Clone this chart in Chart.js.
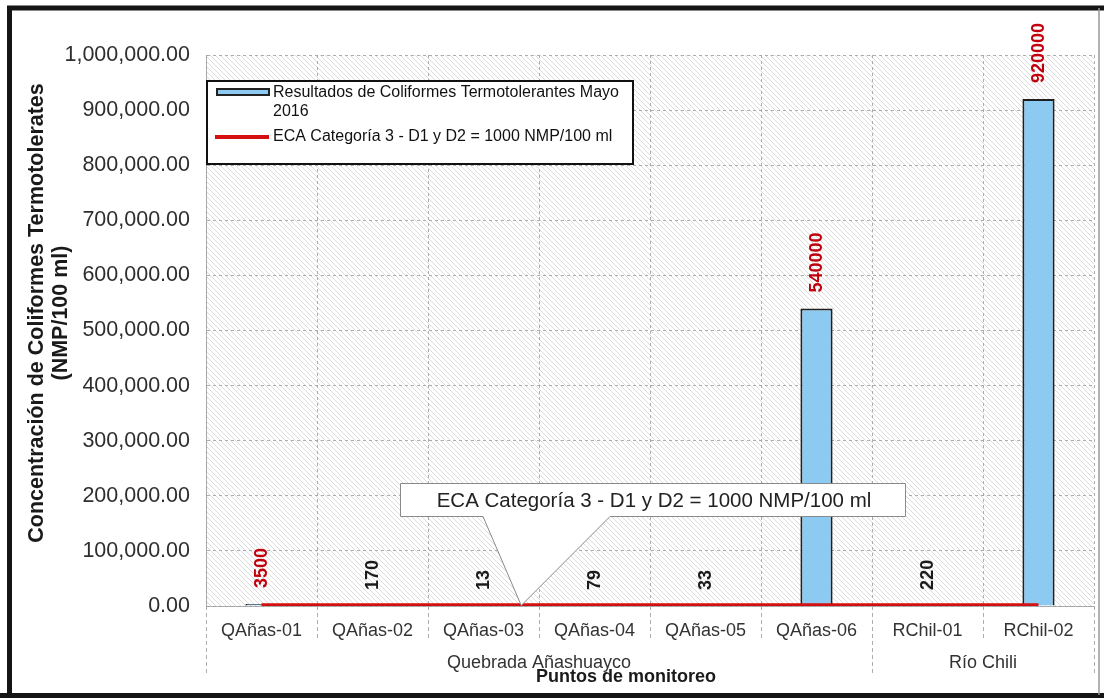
<!DOCTYPE html>
<html>
<head>
<meta charset="utf-8">
<script src="https://cdn.jsdelivr.net/npm/chart.js@4.4.1/dist/chart.umd.min.js"></script>
<style>
  html, body { margin: 0; padding: 0; background: #fff; }
  canvas { display: block; }
</style>
</head>
<body>
<canvas id="chart" width="1104" height="698"></canvas>
<script>
// Monitoring stations and thermotolerant coliform results (NMP/100 ml)
const stations = ['QAñas-01', 'QAñas-02', 'QAñas-03', 'QAñas-04', 'QAñas-05', 'QAñas-06', 'RChil-01', 'RChil-02'];
const coliformes = [3500, 170, 13, 79, 33, 540000, 220, 920000];
// Environmental quality standard (ECA) for every station
const ecaLimit = [1000, 1000, 1000, 1000, 1000, 1000, 1000, 1000];
// Station groups shown below the category labels
const groupNames = ['Quebrada Añashuayco', 'Río Chili'];
const groupSizes = [6, 2];
// Value axis
const yTickValues = [0, 100000, 200000, 300000, 400000, 500000, 600000, 700000, 800000, 900000, 1000000];
const yTickLabels = ['0.00', '100,000.00', '200,000.00', '300,000.00', '400,000.00', '500,000.00',
  '600,000.00', '700,000.00', '800,000.00', '900,000.00', '1,000,000.00'];
// Texts
const seriesLabel = ['Resultados de Coliformes Termotolerantes Mayo', '2016'];
const ecaLabel = 'ECA Categoría 3 - D1 y D2 = 1000 NMP/100 ml';
const yTitle = ['Concentración de Coliformes Termotolerates', '(NMP/100 ml)'];
const xTitle = 'Puntos de monitoreo';

const FONT = '"Liberation Sans", Arial, Helvetica, sans-serif';
const BAR_FILL = '#8CCAF2';
const RED = '#D50F0F';
const LABEL_RED = '#C0000C';
const GRID = 'rgba(160,160,160,0.85)';

function hatchPattern(ctx) {
  const tile = document.createElement('canvas');
  tile.width = 5; tile.height = 5;
  const t = tile.getContext('2d');
  t.strokeStyle = 'rgba(140,140,140,0.38)';
  t.lineWidth = 0.8;
  t.beginPath();
  t.moveTo(-1, -1); t.lineTo(6, 6);
  t.moveTo(-1, 4); t.lineTo(1, 6);
  t.moveTo(4, -1); t.lineTo(6, 1);
  t.stroke();
  return ctx.createPattern(tile, 'repeat');
}

const decor = {
  id: 'decor',
  beforeDraw(chart) {
    const { ctx, chartArea: a } = chart;
    ctx.save();
    ctx.fillStyle = '#fff';
    ctx.fillRect(0, 0, chart.width, chart.height);
    ctx.fillStyle = hatchPattern(ctx);
    ctx.fillRect(a.left, a.top, a.width, a.height);
    ctx.restore();
  },
  afterDatasetsDraw(chart) {
    // rotated value labels above each bar
    const { ctx } = chart;
    const meta = chart.getDatasetMeta(0);
    ctx.save();
    ctx.font = 'bold 18px ' + FONT;
    ctx.textAlign = 'left';
    ctx.textBaseline = 'middle';
    meta.data.forEach((bar, i) => {
      const v = coliformes[i];
      ctx.fillStyle = v > ecaLimit[i] ? LABEL_RED : '#1a1a1a';
      ctx.save();
      ctx.translate(bar.x + 1, bar.y - 16);
      ctx.rotate(-Math.PI / 2);
      ctx.fillText(String(v), 0, 0);
      ctx.restore();
    });
    ctx.restore();
  },
  afterDraw(chart) {
    const { ctx, chartArea: a } = chart;
    const xs = chart.scales.x, ys = chart.scales.y;
    const cw = xs.getPixelForValue(1) - xs.getPixelForValue(0);
    const edge = i => xs.getPixelForValue(0) - cw / 2 + i * cw;

    ctx.save();
    // category separators below the axis
    ctx.strokeStyle = GRID;
    ctx.lineWidth = 1;
    ctx.setLineDash([4, 3]);
    const groupEdges = [0];
    groupSizes.forEach(s => groupEdges.push(groupEdges[groupEdges.length - 1] + s));
    for (let i = 0; i <= stations.length; i++) {
      const x = Math.round(edge(i)) + 0.5;
      const long = groupEdges.includes(i);
      ctx.beginPath();
      ctx.moveTo(x, a.bottom);
      ctx.lineTo(x, a.bottom + (long ? 69 : 35));
      ctx.stroke();
    }
    ctx.setLineDash([]);

    // group names
    ctx.fillStyle = '#333';
    ctx.font = '18px ' + FONT;
    ctx.textAlign = 'center';
    ctx.textBaseline = 'middle';
    groupNames.forEach((g, k) => {
      const x = (edge(groupEdges[k]) + edge(groupEdges[k + 1])) / 2;
      ctx.fillText(g, x, a.bottom + 57);
    });

    // axis titles
    ctx.fillStyle = '#1a1a1a';
    ctx.font = 'bold 18px ' + FONT;
    ctx.fillText(xTitle, 626, a.bottom + 71);
    ctx.save();
    ctx.translate(37, 313);
    ctx.rotate(-Math.PI / 2);
    ctx.font = 'bold 21.5px ' + FONT;
    ctx.fillText(yTitle[0], 0, 0);
    ctx.fillText(yTitle[1], 0, 24);
    ctx.restore();

    // legend box
    const L = { x: a.left + 1, y: 81, w: 426, h: 83 };
    ctx.fillStyle = '#fff';
    ctx.fillRect(L.x, L.y, L.w, L.h);
    ctx.strokeStyle = '#111';
    ctx.lineWidth = 2;
    ctx.strokeRect(L.x, L.y, L.w, L.h);
    ctx.fillStyle = BAR_FILL;
    ctx.fillRect(L.x + 10, L.y + 8, 52, 6);
    ctx.lineWidth = 2;
    ctx.strokeStyle = '#222';
    ctx.strokeRect(L.x + 10, L.y + 8, 52, 6);
    ctx.strokeStyle = RED;
    ctx.lineWidth = 4;
    ctx.beginPath();
    ctx.moveTo(L.x + 8, L.y + 56);
    ctx.lineTo(L.x + 62, L.y + 56);
    ctx.stroke();
    ctx.fillStyle = '#111';
    ctx.font = '16px ' + FONT;
    ctx.textAlign = 'left';
    ctx.fillText(seriesLabel[0], L.x + 66, L.y + 12);
    ctx.fillText(seriesLabel[1], L.x + 66, L.y + 31);
    ctx.fillText(ecaLabel, L.x + 66, L.y + 56);

    // callout pointing at the ECA line
    const tipX = xs.getPixelForValue(2) + 0.34 * cw;
    const tipY = ys.getPixelForValue(ecaLimit[2]);
    const B = { x: 400.5, y: 483.5, w: 505, h: 33 };
    const b1 = 483, b2 = 610;
    ctx.beginPath();
    ctx.moveTo(B.x, B.y);
    ctx.lineTo(B.x + B.w, B.y);
    ctx.lineTo(B.x + B.w, B.y + B.h);
    ctx.lineTo(b2, B.y + B.h);
    ctx.lineTo(tipX, tipY);
    ctx.lineTo(b1, B.y + B.h);
    ctx.lineTo(B.x, B.y + B.h);
    ctx.closePath();
    ctx.fillStyle = '#fff';
    ctx.fill();
    ctx.strokeStyle = '#8a8a8a';
    ctx.lineWidth = 1;
    ctx.stroke();
    ctx.fillStyle = '#222';
    ctx.font = '20.5px ' + FONT;
    ctx.textAlign = 'center';
    ctx.fillText(ecaLabel, B.x + B.w / 2 + 1, B.y + B.h / 2 + 1);

    // outer frame
    ctx.strokeStyle = '#151515';
    ctx.lineWidth = 5;
    ctx.beginPath();
    ctx.moveTo(9.5, 698);
    ctx.lineTo(9.5, 8);
    ctx.lineTo(1104, 8);
    ctx.moveTo(0, 695.5);
    ctx.lineTo(1104, 695.5);
    ctx.stroke();
    ctx.strokeStyle = '#9a9a9a';
    ctx.lineWidth = 1.5;
    ctx.beginPath();
    ctx.moveTo(1099, 8);
    ctx.lineTo(1099, 695);
    ctx.stroke();
    ctx.restore();
  }
};

new Chart(document.getElementById('chart'), {
  data: {
    labels: stations,
    datasets: [
      {
        type: 'bar',
        label: seriesLabel.join(' '),
        data: coliformes,
        backgroundColor: BAR_FILL,
        borderColor: '#1f1f1f',
        borderWidth: 2,
        barPercentage: 0.29,
        categoryPercentage: 1,
        order: 2
      },
      {
        type: 'line',
        label: ecaLabel,
        data: ecaLimit,
        borderColor: RED,
        borderWidth: 4.5,
        pointRadius: 0,
        tension: 0,
        order: 1
      }
    ]
  },
  options: {
    responsive: false,
    animation: false,
    devicePixelRatio: 1,
    layout: { padding: { left: 0, top: 55, right: 10, bottom: 0 } },
    plugins: { legend: { display: false }, tooltip: { enabled: false } },
    scales: {
      x: {
        offset: true,
        afterFit: s => { s.height = 92; },
        grid: { offset: true, color: GRID, lineWidth: 1, drawTicks: false },
        border: { display: true, color: GRID, dash: [3, 3] },
        ticks: { color: '#333', font: { family: FONT, size: 18 }, padding: 14, maxRotation: 0 }
      },
      y: {
        min: 0,
        max: 1000000,
        afterFit: s => { s.width = 206; },
        afterBuildTicks: s => { s.ticks = yTickValues.map(v => ({ value: v })); },
        grid: { color: GRID, lineWidth: 1, drawTicks: false },
        border: { display: true, color: GRID, dash: [3, 3] },
        ticks: {
          color: '#2e2e2e',
          font: { family: FONT, size: 21.5 },
          padding: 16,
          callback: (v, i) => yTickLabels[i]
        }
      }
    }
  },
  plugins: [decor]
});
</script>
</body>
</html>
